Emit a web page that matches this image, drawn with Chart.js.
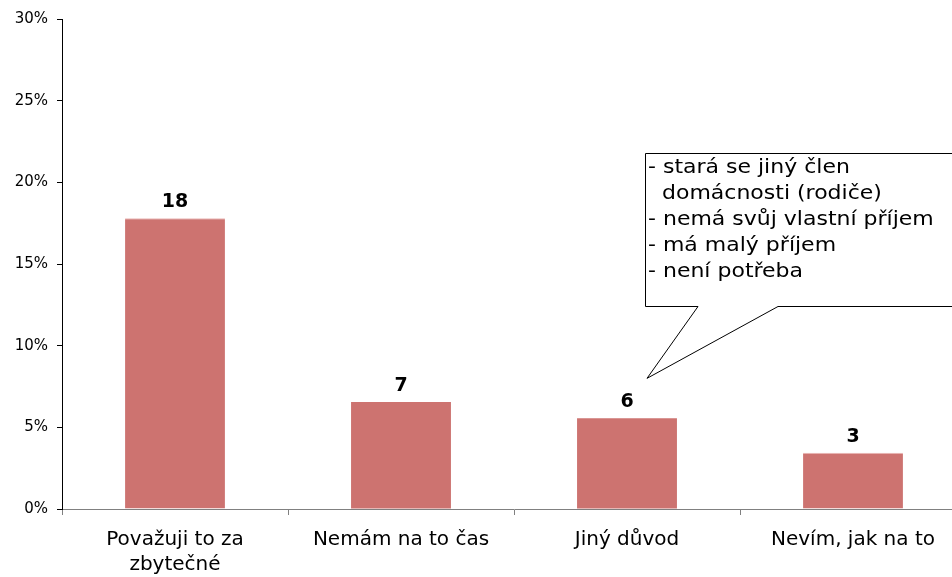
<!DOCTYPE html>
<html>
<head>
<meta charset="utf-8">
<script src="https://cdn.jsdelivr.net/npm/chart.js@4"></script>
<style>
  html, body { margin: 0; padding: 0; overflow: hidden; background: #fff; }
  #wrap { width: 966px; height: 577px; }
</style>
</head>
<body>
<div id="wrap"><canvas id="chart"></canvas></div>
<script>
const categories = [["Považuji to za", "zbytečné"], "Nemám na to čas", "Jiný důvod", "Nevím, jak na to"];
const shares = [17.8, 6.55, 5.55, 3.45];
const counts = ["18", "7", "6", "3"];
const yTicks = [0, 5, 10, 15, 20, 25, 30];
const calloutLines = ["- stará se jiný člen", "  domácnosti (rodiče)", "- nemá svůj vlastní příjem", "- má malý příjem", "- není potřeba"];

const FONT = "'DejaVu Sans', Verdana, sans-serif";

const valueLabels = {
  id: "valueLabels",
  afterDatasetsDraw(chart) {
    const ctx = chart.ctx;
    const meta = chart.getDatasetMeta(0);
    ctx.save();
    ctx.font = "bold 19px " + FONT;
    ctx.fillStyle = "#000";
    ctx.textAlign = "center";
    ctx.textBaseline = "alphabetic";
    meta.data.forEach((bar, i) => {
      ctx.fillText(counts[i], bar.x, bar.y - 11);
    });
    ctx.restore();
  }
};

const callout = {
  id: "callout",
  afterDraw(chart) {
    const ctx = chart.ctx;
    const bar = chart.getDatasetMeta(0).data[2];
    const tipX = bar.x + 20, tipY = bar.y - 40;
    const left = 645, top = 153, right = 990, bottom = 306;
    ctx.save();
    ctx.beginPath();
    ctx.moveTo(left + 0.5, top + 0.5);
    ctx.lineTo(right, top + 0.5);
    ctx.lineTo(right, bottom + 0.5);
    ctx.lineTo(778, bottom + 0.5);
    ctx.lineTo(tipX, tipY);
    ctx.lineTo(698, bottom + 0.5);
    ctx.lineTo(left + 0.5, bottom + 0.5);
    ctx.closePath();
    ctx.fillStyle = "#fff";
    ctx.fill();
    ctx.strokeStyle = "#000";
    ctx.lineWidth = 1;
    ctx.stroke();
    ctx.font = "20px " + FONT;
    ctx.fillStyle = "#000";
    ctx.textAlign = "left";
    ctx.textBaseline = "middle";
    calloutLines.forEach((line, i) => {
      ctx.save();
      ctx.translate(left + 3, top + 15 + i * 26);
      ctx.scale(1.1, 1);
      ctx.fillText(line, 0, 0);
      ctx.restore();
    });
    ctx.restore();
  }
};

new Chart(document.getElementById("chart"), {
  type: "bar",
  data: {
    labels: categories,
    datasets: [{
      data: shares,
      backgroundColor: "#CD7370",
      borderColor: "#EBB8B6",
      borderWidth: [{ top: 1 }, 0, 0, { top: 1 }],
      borderSkipped: "bottom",
      categoryPercentage: 1,
      barPercentage: 0.442
    }]
  },
  options: {
    responsive: true,
    maintainAspectRatio: false,
    animation: false,
    layout: { padding: { top: 19, right: 0, left: 0, bottom: 0 } },
    plugins: { legend: { display: false }, tooltip: { enabled: false } },
    scales: {
      x: {
        offset: true,
        grid: { display: true, drawOnChartArea: false, offset: true, color: "#808080", tickLength: 6 },
        border: { color: "#808080", width: 1 },
        ticks: { color: "#000", font: { family: FONT, size: 20, lineHeight: 1.25 }, padding: 12, maxRotation: 0, autoSkip: false },
        afterFit(scale) { scale.height = 68; }
      },
      y: {
        min: 0,
        max: 30,
        afterBuildTicks(scale) { scale.ticks = yTicks.map(v => ({ value: v })); },
        grid: { display: true, drawOnChartArea: false, color: "#000", tickLength: 5 },
        border: { color: "#000", width: 1 },
        ticks: { color: "#000", font: { family: FONT, size: 15 }, padding: 9, callback: v => v + "%" },
        afterFit(scale) { scale.width = 62; }
      }
    }
  },
  plugins: [valueLabels, callout]
});
</script>
</body>
</html>
